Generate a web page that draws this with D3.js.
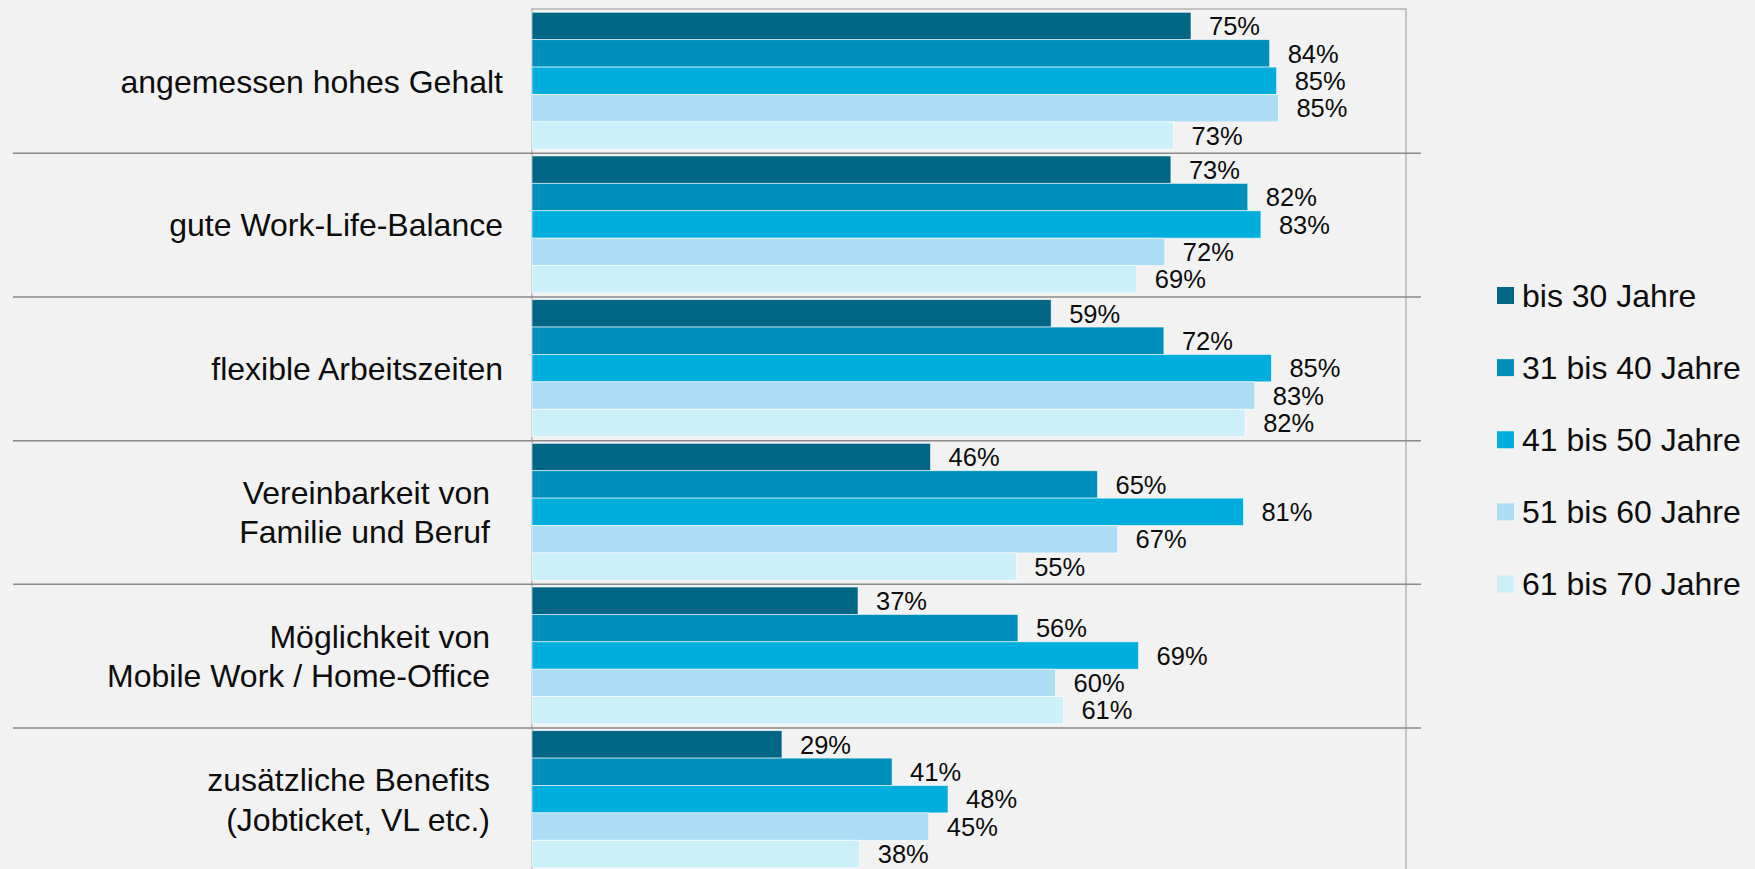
<!DOCTYPE html>
<html>
<head>
<meta charset="utf-8">
<script src="https://cdn.jsdelivr.net/npm/d3@7"></script>
<style>
  html, body { margin: 0; padding: 0; background: #f2f2f2; }
  svg { display: block; font-family: "Liberation Sans", Arial, sans-serif; }
</style>
</head>
<body>
<svg id="chart" width="1755" height="869"></svg>
<script>
// categories (top to bottom), each entry is the list of label lines
const categories = [
  ['angemessen hohes Gehalt'],
  ['gute Work-Life-Balance'],
  ['flexible Arbeitszeiten'],
  ['Vereinbarkeit von', 'Familie und Beruf'],
  ['Möglichkeit von', 'Mobile Work / Home-Office'],
  ['zusätzliche Benefits', '(Jobticket, VL etc.)']
]

const seriesNames = ['bis 30 Jahre', '31 bis 40 Jahre', '41 bis 50 Jahre', '51 bis 60 Jahre', '61 bis 70 Jahre']
const seriesColors = ['#006685', '#008fbb', '#00aedd', '#addcf5', '#cbf0fa']

// share in percent, one array per age group, same order as categories
const bis30 = [75.4, 73.1, 59.4, 45.6, 37.3, 28.6]
const bis40 = [84.4, 81.9, 72.3, 64.7, 55.6, 41.2]
const bis50 = [85.2, 83.4, 84.6, 81.4, 69.4, 47.6]
const bis60 = [85.4, 72.4, 82.7, 67.0, 59.9, 45.4]
const bis70 = [73.4, 69.2, 81.6, 55.4, 60.8, 37.5]
const seriesValues = [bis30, bis40, bis50, bis60, bis70]

const svg = d3.select('#chart')

const catKeys = categories.map(c => c.join(' '))

const x = d3.scaleLinear().domain([0, 100]).range([532, 1406])
const y0 = d3.scaleBand().domain(catKeys).range([9.6, 871.7])
const y1 = d3.scaleBand().domain(seriesNames)
  .range([0, y0.bandwidth()])
  .paddingOuter(0.122)
  .align(0.4)

// plot frame (bottom edge falls outside the picture)
svg.append('rect')
  .attr('x', x(0))
  .attr('y', 9)
  .attr('width', x(100) - x(0))
  .attr('height', 900)
  .attr('fill', 'none')
  .attr('stroke', '#c3c3c3')
  .attr('stroke-width', 2)

// separators between the categories
svg.append('g')
  .selectAll('line')
  .data(catKeys.slice(1))
  .enter()
  .append('line')
  .attr('x1', 13)
  .attr('x2', 1421)
  .attr('y1', d => y0(d))
  .attr('y2', d => y0(d))
  .attr('stroke', '#8a8a8a')
  .attr('stroke-width', 1.5)

const rows = []
catKeys.forEach((c, ci) => {
  seriesNames.forEach((s, si) => {
    rows.push({ cat: c, series: s, value: seriesValues[si][ci], color: seriesColors[si] })
  })
})

const bars = svg.append('g')
bars.selectAll('rect')
  .data(rows)
  .enter()
  .append('rect')
  .attr('x', x(0))
  .attr('y', d => y0(d.cat) + y1(d.series))
  .attr('width', d => x(d.value) - x(0))
  .attr('height', y1.bandwidth())
  .attr('fill', d => d.color)
  .attr('stroke', '#ffffff')
  .attr('stroke-opacity', 0.7)
  .attr('stroke-width', 0.8)

// value labels
svg.append('g')
  .selectAll('text')
  .data(rows)
  .enter()
  .append('text')
  .attr('x', d => x(d.value) + 18)
  .attr('y', d => y0(d.cat) + y1(d.series) + y1.bandwidth() / 2)
  .attr('dy', '0.36em')
  .attr('font-size', '25.5px')
  .attr('fill', '#0d0d0d')
  .text(d => Math.round(d.value) + '%')

// category labels
const lineGap = 39.3
const catLabels = svg.append('g')
categories.forEach((lines, i) => {
  const cy = y0(catKeys[i]) + y0.bandwidth() / 2
  const anchorX = lines.length > 1 ? 490 : 503
  lines.forEach((line, li) => {
    catLabels.append('text')
      .attr('x', anchorX)
      .attr('y', cy + (li - (lines.length - 1) / 2) * lineGap)
      .attr('dy', '0.35em')
      .attr('text-anchor', 'end')
      .attr('font-size', '32px')
      .attr('fill', '#0d0d0d')
      .text(line)
  })
})

// legend
const legendY = d3.scalePoint().domain(seriesNames).range([295.5, 584])
const legend = svg.append('g')
  .selectAll('g')
  .data(seriesNames)
  .enter()
  .append('g')
  .attr('transform', d => `translate(1497, ${legendY(d)})`)

legend.append('rect')
  .attr('x', 0)
  .attr('y', -8.5)
  .attr('width', 17)
  .attr('height', 17)
  .attr('fill', (d, i) => seriesColors[i])

legend.append('text')
  .attr('x', 25)
  .attr('y', 0)
  .attr('dy', '0.35em')
  .attr('font-size', '32px')
  .attr('fill', '#0d0d0d')
  .text(d => d)
</script>
</body>
</html>
